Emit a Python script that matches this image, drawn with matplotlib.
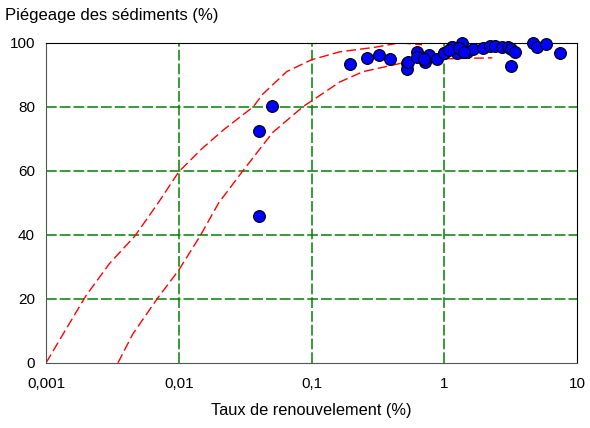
import matplotlib.pyplot as plt
import numpy as np

plt.rcParams['font.family'] = ['Liberation Sans', 'DejaVu Sans']

# observed points: turnover rate (%) and sediment trapping (%)
taux = [0.040, 0.050, 0.040, 0.195, 0.262, 0.322, 0.39,
        0.525, 0.525, 0.623, 0.53, 0.716, 0.77, 0.88, 1.0, 1.0,
        1.15, 1.24, 1.15, 1.35, 1.49, 1.64, 1.97, 2.22, 2.42, 2.73,
        3.02, 3.2, 3.4, 3.2, 4.67, 5.0, 5.8, 7.5,
        0.62, 0.70, 1.08, 1.30, 1.42]
piegeage = [72.5, 80.3, 45.9, 93.4, 95.3, 96.2, 95.0,
            93.7, 91.9, 97.2, 94.0, 94.0, 96.2, 95.0, 96.9, 96.9,
            98.7, 96.9, 98.7, 100.0, 97.2, 98.1, 98.4, 99.0, 99.0, 98.7,
            98.7, 98.1, 97.2, 92.8, 100.0, 98.7, 99.7, 96.9,
            95.5, 95.0, 97.8, 98.5, 97.0]

# envelope curves
env_hi_x = [0.001, 0.0013, 0.002, 0.003, 0.00468, 0.007, 0.01, 0.015, 0.022,
            0.0364, 0.043, 0.065, 0.1, 0.164, 0.3, 0.46, 0.68]
env_hi_y = [0, 8, 21, 31, 39.7, 50, 59.7, 67, 73, 80, 84, 91, 94.7, 97.2, 98.6, 100, 99.4]
env_lo_x = [0.00348, 0.0045, 0.00686, 0.01, 0.0145, 0.02, 0.03, 0.051, 0.086,
            0.164, 0.245, 0.49, 0.98, 2.3]
env_lo_y = [0, 9, 20, 29, 39.7, 50, 59.7, 72, 80, 87.8, 91, 93.75, 95, 95.3]

fig = plt.figure(figsize=(5.9, 4.28), dpi=100)
ax = fig.add_axes([0.078, 0.152, 0.900, 0.748])

ax.set_xscale('log')
ax.set_xlim(0.001, 10)
ax.set_ylim(0, 100)

for xv in [0.01, 0.1, 1]:
    ax.axvline(xv, color='#008000', lw=1.1, ls=(0, (7, 2)), zorder=1)
for yv in [20, 40, 60, 80]:
    ax.axhline(yv, color='#008000', lw=1.1, ls=(0, (7, 2)), zorder=1)

ax.plot(env_hi_x, env_hi_y, color='red', lw=1, ls=(0, (7, 3)), zorder=2)
ax.plot(env_lo_x, env_lo_y, color='red', lw=1, ls=(0, (7, 3)), zorder=2)

ax.plot(taux, piegeage, 'o', color='blue', mec='black', mew=0.8, ms=8.5,
        zorder=3, clip_on=False)

ax.set_xticks([0.001, 0.01, 0.1, 1, 10])
ax.set_xticklabels(['0,001', '0,01', '0,1', '1', '10'])
ax.minorticks_off()
ax.set_yticks([0, 20, 40, 60, 80, 100])
ax.tick_params(length=0, labelsize=11)
ax.tick_params(axis='x', pad=10)
ax.tick_params(axis='y', pad=8)

for s in ['left', 'bottom']:
    ax.spines[s].set_color('#555555')
for s in ['top', 'right']:
    ax.spines[s].set_color('black')

ax.set_xlabel('Taux de renouvelement (%)', fontsize=11.8, labelpad=9)
fig.text(0.008, 0.963, 'Piégeage des sédiments (%)', fontsize=12, va='center')

fig.savefig('out.png', dpi=100)
